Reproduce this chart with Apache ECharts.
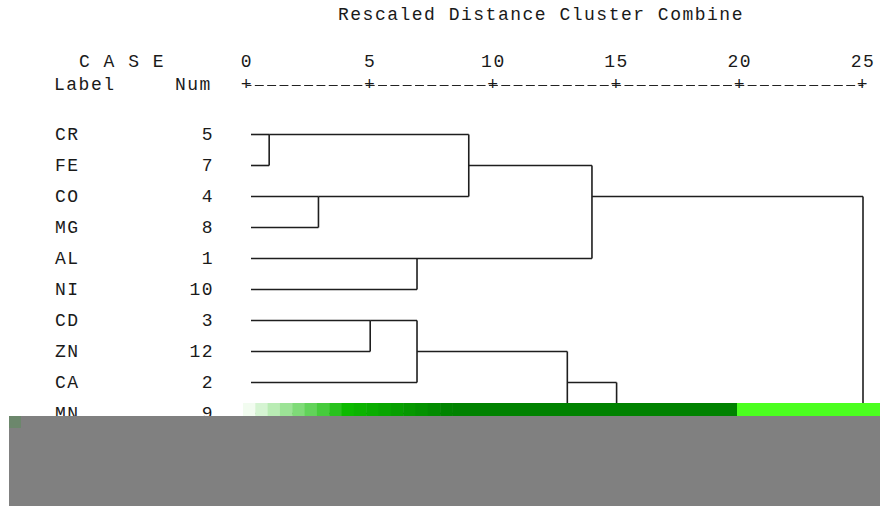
<!DOCTYPE html>
<html>
<head>
<meta charset="utf-8">
<script src="https://cdn.jsdelivr.net/npm/echarts@6/dist/echarts.min.js"></script>
<style>
  html, body { margin: 0; padding: 0; background: #fff; }
  #chart { width: 880px; height: 506px; }
  #chart text { letter-spacing: 1.5px; }
</style>
</head>
<body>
<div id="chart"></div>
<script>
// ---- data ----
const titleText = 'Rescaled Distance Cluster Combine';
const caseLabels = ['CR', 'FE', 'CO', 'MG', 'AL', 'NI', 'CD', 'ZN', 'CA', 'MN', 'CU', 'PB'];
const caseNums   = ['5', '7', '4', '8', '1', '10', '3', '12', '2', '9', '6', '11'];
const tickValues = [0, 5, 10, 15, 20, 25];
// agglomeration schedule (clusters named by their first case), rescaled distances
const mergeFirst  = ['CR', 'CU', 'CO', 'CD', 'AL', 'CD', 'CR', 'CD', 'CR', 'CD', 'CR'];
const mergeSecond = ['FE', 'PB', 'MG', 'ZN', 'NI', 'CA', 'CO', 'MN', 'AL', 'CU', 'CD'];
const mergeDist   = [0.9, 1.9, 2.9, 5.0, 6.9, 6.9, 9.0, 13.0, 14.0, 15.0, 25.0];

// ---- build dendrogram segments from the schedule ----
const nodes = {};
caseLabels.forEach((c, i) => { nodes[c] = { row: i, x: 0 }; });
const segments = []; // [x1, row1, x2, row2]
for (let i = 0; i < mergeFirst.length; i++) {
  const A = nodes[mergeFirst[i]], B = nodes[mergeSecond[i]], d = mergeDist[i];
  segments.push([A.x, A.row, d, A.row]);
  segments.push([B.x, B.row, d, B.row]);
  segments.push([d, A.row, d, B.row]);
  nodes[mergeFirst[i]] = { row: Math.floor((A.row + B.row) / 2), x: d };
}

const FONT = 'Liberation Mono';
const FS = 18;
const TXT = '#1a1a1a';

// progress-bar overlay colours (style only)
function mix(c1, c2, t) {
  const r = Math.round(c1[0] + (c2[0] - c1[0]) * t);
  const g = Math.round(c1[1] + (c2[1] - c1[1]) * t);
  const b = Math.round(c1[2] + (c2[2] - c1[2]) * t);
  return 'rgb(' + r + ',' + g + ',' + b + ')';
}
const barCells = [];
const cellW = 12.32, nCells = 17, barX0 = 243;
for (let i = 0; i < nCells; i++) {
  let col;
  if (i <= 8) col = mix([242, 252, 240], [12, 186, 0], i / 8);
  else col = mix([12, 186, 0], [0, 132, 0], (i - 8) / 8);
  barCells.push({
    type: 'rect', z: 100,
    shape: { x: barX0 + i * cellW, y: 403, width: cellW + 0.5, height: 13 },
    style: { fill: col }
  });
}

const chart = echarts.init(document.getElementById('chart'), null, { renderer: 'svg' });
chart.setOption({
  animation: false,
  backgroundColor: '#ffffff',
  grid: { left: 247, right: 17, top: 119, height: 372 },
  xAxis: [
    {
      type: 'value', min: 0, max: 25, interval: 5, position: 'top', offset: 57,
      axisLine: { show: false }, axisTick: { show: false }, splitLine: { show: false },
      axisLabel: { margin: 0, verticalAlign: 'middle', color: TXT, fontFamily: FONT, fontSize: FS,
        customValues: tickValues }
    },
    {
      type: 'value', min: 0, max: 25, interval: 5, position: 'top', offset: 34,
      axisLine: { show: true, lineStyle: { color: '#222', width: 1.2, type: [8, 4.32], dashOffset: 4 } },
      axisTick: { show: false }, splitLine: { show: false },
      axisLabel: { margin: 0, verticalAlign: 'middle', color: TXT, fontFamily: FONT, fontSize: FS,
        formatter: () => '+' }
    }
  ],
  yAxis: [
    {
      type: 'category', data: caseLabels, inverse: true, position: 'left',
      axisLine: { show: false }, axisTick: { show: false }, splitLine: { show: false },
      axisLabel: { interval: 0, align: 'left', margin: 192, color: TXT, fontFamily: FONT, fontSize: FS }
    },
    {
      type: 'category', data: caseNums, inverse: true, position: 'left',
      axisLine: { show: false }, axisTick: { show: false }, splitLine: { show: false },
      axisLabel: { interval: 0, align: 'right', margin: 33, color: TXT, fontFamily: FONT, fontSize: FS }
    }
  ],
  series: [{
    type: 'custom',
    xAxisIndex: 0, yAxisIndex: 0,
    clip: false,
    data: segments,
    renderItem: function (params, api) {
      const x1v = api.value(0), x2v = api.value(2);
      const p1 = api.coord([x1v, api.value(1)]);
      const p2 = api.coord([x2v, api.value(3)]);
      const lead = (x1v === 0 && api.value(1) === api.value(3)) ? 4 : 0;
      return {
        type: 'line',
        shape: { x1: p1[0] + lead, y1: p1[1], x2: p2[0], y2: p2[1] },
        style: { stroke: '#1e1e1e', lineWidth: 1.6 }
      };
    }
  }],
  graphic: [
    { type: 'text', z: 100, x: 338, y: 15,
      style: { text: titleText, fontFamily: FONT, fontSize: FS, fill: TXT, textAlign: 'left', textVerticalAlign: 'middle' } },
    { type: 'text', z: 100, x: 79, y: 62,
      style: { text: 'C A S E', fontFamily: FONT, fontSize: FS, fill: TXT, textAlign: 'left', textVerticalAlign: 'middle' } },
    { type: 'text', z: 100, x: 54, y: 85,
      style: { text: 'Label', fontFamily: FONT, fontSize: FS, fill: TXT, textAlign: 'left', textVerticalAlign: 'middle' } },
    { type: 'text', z: 100, x: 175, y: 85,
      style: { text: 'Num', fontFamily: FONT, fontSize: FS, fill: TXT, textAlign: 'left', textVerticalAlign: 'middle' } },
    ...barCells,
    { type: 'rect', z: 100, shape: { x: barX0 + nCells * cellW, y: 403, width: 737 - (barX0 + nCells * cellW), height: 13 },
      style: { fill: '#008200' } },
    { type: 'rect', z: 100, shape: { x: 737, y: 403, width: 143, height: 13 }, style: { fill: '#4bff1f' } },
    { type: 'rect', z: 101, shape: { x: 9, y: 416, width: 871, height: 90 }, style: { fill: '#808080' } },
    { type: 'rect', z: 102, shape: { x: 9, y: 416, width: 12, height: 12 }, style: { fill: '#6c876c' } }
  ]
});
</script>
</body>
</html>
